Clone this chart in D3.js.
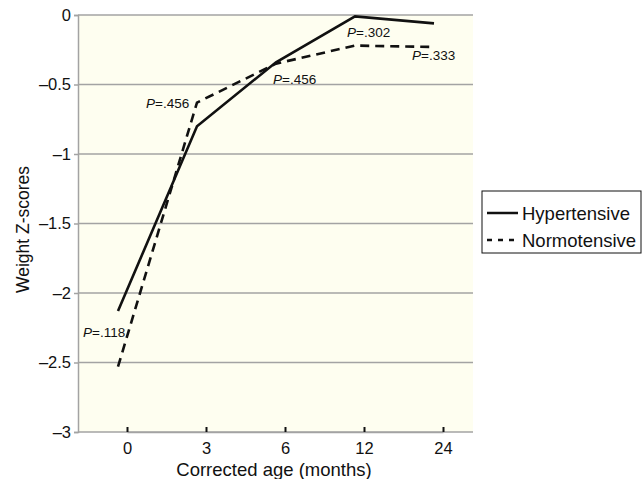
<!DOCTYPE html>
<html>
<head>
<meta charset="utf-8">
<script src="https://cdn.jsdelivr.net/npm/d3@7"></script>
<style>
  body { margin: 0; background: #fff; }
  text { font-family: "Liberation Sans", Arial, sans-serif; fill: #111; }
</style>
</head>
<body>
<svg id="chart"></svg>
<script>
// data
const ages = ["0", "3", "6", "12", "24"];
const hypertensive = [-2.13, -0.80, -0.34, -0.01, -0.06];
const normotensive = [-2.53, -0.63, -0.35, -0.22, -0.23];
const yTicks = [0, -0.5, -1, -1.5, -2, -2.5, -3];
const pLabels = [
    {age: "0", value: -2.28, text: ".118"},
    {age: "3", value: -0.63, text: ".456"},
    {age: "6", value: -0.46, text: ".456"},
    {age: "12", value: -0.12, text: ".302"},
    {age: "24", value: -0.29, text: ".333"}
];

const width = 643, height = 479;
const margin = {top: 15, right: 170, bottom: 47, left: 78};
const innerW = width - margin.left - margin.right;
const innerH = height - margin.top - margin.bottom;

const svg = d3.select("#chart")
    .attr("width", width)
    .attr("height", height);

const chart = svg.append("g")
    .attr("transform", `translate(${margin.left},${margin.top})`);

// scales
const xScale = d3.scalePoint()
    .domain(ages)
    .range([49, innerW - 30]);
// data points sit a little left of the tick marks in the original
const dataShift = -9;
const yScale = d3.scaleLinear()
    .domain([-3, 0])
    .range([innerH, 0]);

// plot background
chart.append("rect")
    .attr("width", innerW)
    .attr("height", innerH)
    .attr("fill", "#fefef0");

// gridlines
chart.selectAll(".grid")
    .data(yTicks)
    .join("line")
    .attr("class", "grid")
    .attr("x1", 0)
    .attr("x2", innerW)
    .attr("y1", d => yScale(d))
    .attr("y2", d => yScale(d))
    .attr("stroke", "#a3a3a3")
    .attr("stroke-width", 1.5);

// y axis
const yAxis = d3.axisLeft(yScale)
    .tickValues(yTicks)
    .tickSize(4)
    .tickPadding(3)
    .tickFormat(d => d === 0 ? "0" : "\u2013" + String(Math.abs(d)));
const yAxisG = chart.append("g").call(yAxis);
yAxisG.select(".domain").attr("stroke", "#a3a3a3").attr("stroke-width", 1.5);
yAxisG.selectAll(".tick line").attr("stroke", "#a3a3a3").attr("stroke-width", 1.5);
yAxisG.selectAll(".tick text").style("font-size", "16.5px").attr("fill", "#111")
    .style("font-family", "Liberation Sans, Arial, sans-serif");

// x axis
const xAxis = d3.axisBottom(xScale)
    .tickSize(0)
    .tickPadding(10);
const xAxisG = chart.append("g")
    .attr("transform", `translate(0,${innerH})`)
    .call(xAxis);
xAxisG.select(".domain").attr("stroke", "#a3a3a3").attr("stroke-width", 1.5);
xAxisG.selectAll(".tick text").style("font-size", "16.5px").attr("fill", "#111")
    .style("font-family", "Liberation Sans, Arial, sans-serif");
xAxisG.selectAll(".tick").append("line")
    .attr("y1", -5)
    .attr("y2", 0)
    .attr("stroke", "#111")
    .attr("stroke-width", 2);

// axis titles
svg.append("text")
    .attr("x", 274)
    .attr("y", 476)
    .attr("text-anchor", "middle")
    .style("font-size", "18.5px")
    .text("Corrected age (months)");

svg.append("text")
    .attr("transform", `translate(29,${margin.top + innerH / 2 + 6}) rotate(-90)`)
    .attr("text-anchor", "middle")
    .style("font-size", "17.5px")
    .text("Weight Z-scores");

// lines
const line = d3.line()
    .x((d, i) => xScale(ages[i]) + dataShift)
    .y(d => yScale(d));

chart.append("path")
    .datum(hypertensive)
    .attr("d", line)
    .attr("fill", "none")
    .attr("stroke", "#111")
    .attr("stroke-width", 2.6);

chart.append("path")
    .datum(normotensive)
    .attr("d", line)
    .attr("fill", "none")
    .attr("stroke", "#111")
    .attr("stroke-width", 2.6)
    .attr("stroke-dasharray", "9,6");

// P value labels
const pOffsets = {"0": -44, "3": -60, "6": -12, "12": -17, "24": -31};
const pText = chart.selectAll(".plabel")
    .data(pLabels)
    .join("text")
    .attr("class", "plabel")
    .attr("x", d => xScale(d.age) + pOffsets[d.age])
    .attr("y", d => yScale(d.value) + 5)
    .style("font-size", "13.5px");
pText.append("tspan").style("font-style", "italic").text("P");
pText.append("tspan").text(d => "=" + d.text);

// legend
const legend = svg.append("g")
    .attr("transform", "translate(482,191)");
legend.append("rect")
    .attr("width", 159)
    .attr("height", 62)
    .attr("fill", "#fff")
    .attr("stroke", "#111")
    .attr("stroke-width", 1);

const legendItems = [
    {name: "Hypertensive", dash: null},
    {name: "Normotensive", dash: "5,6"}
];
const li = legend.selectAll(".li")
    .data(legendItems)
    .join("g")
    .attr("class", "li")
    .attr("transform", (d, i) => `translate(0,${22 + i * 27})`);
li.append("line")
    .attr("x1", 5)
    .attr("x2", 36)
    .attr("stroke", "#111")
    .attr("stroke-width", 2.5)
    .attr("stroke-dasharray", d => d.dash);
li.append("text")
    .attr("x", 40)
    .attr("y", 6.5)
    .style("font-size", "18.5px")
    .text(d => d.name);
</script>
</body>
</html>
